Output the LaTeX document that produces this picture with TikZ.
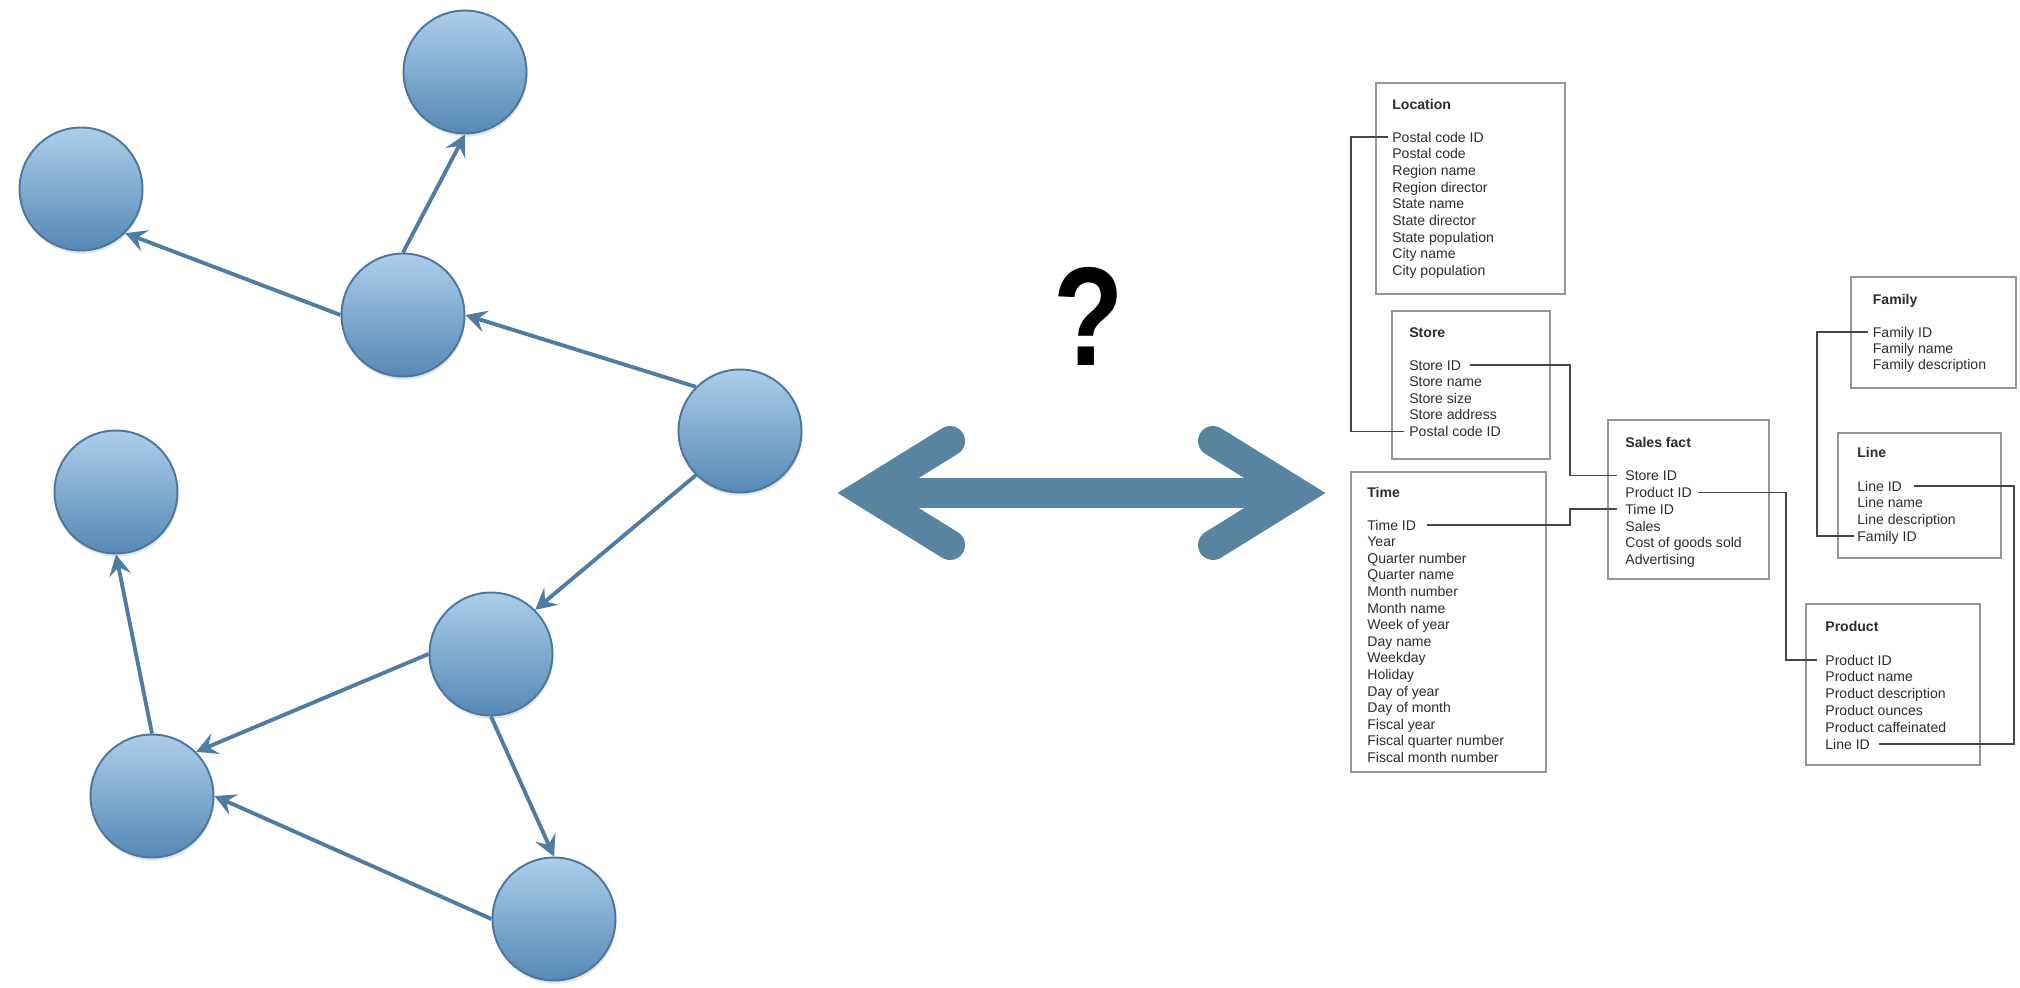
\documentclass[tikz,border=0pt]{standalone}
\usepackage{fontspec}
\setmainfont{Liberation Sans}
\usetikzlibrary{arrows.meta,calc,fit,shadows}

\definecolor{nodeTop}{RGB}{172,206,235}
\definecolor{nodeBot}{RGB}{86,136,180}
\definecolor{nodeLine}{RGB}{74,119,160}
\definecolor{edgeCol}{RGB}{78,124,163}
\definecolor{bigCol}{RGB}{88,132,162}
\definecolor{boxCol}{RGB}{150,150,150}
\definecolor{txtCol}{RGB}{45,45,45}
\definecolor{linkCol}{RGB}{70,70,70}

% one table: prefix, title, text x, title y, first row y, row step, rows
\newcommand\dbtable[7]{%
  \node[ttitle] (#1-t) at (#3,#4) {#2};
  \foreach \rowtext [count=\i] in {#7}
    \node[trow] (#1-\i) at ({#3},{#5+(\i-1)*#6}) {\rowtext};
}

\begin{document}
\begin{tikzpicture}[x=0.02cm,y=-0.02cm,
  gnode/.style={circle, minimum size=2.46cm, inner sep=0pt,
    draw=nodeLine, line width=1.1pt, top color=nodeTop, bottom color=nodeBot,
    drop shadow={opacity=0.22, shadow xshift=0.5pt, shadow yshift=-1.8pt}},
  garrow/.style={draw=edgeCol, line width=2.2pt,
    -{Stealth[length=0.42cm, width=0.44cm, inset=0.16cm]}},
  bigarrow/.style={draw=bigCol, line width=0.6cm},
  tbox/.style={draw=boxCol, line width=0.9pt, inner sep=0pt, rectangle},
  trow/.style={anchor=west, inner sep=0pt, text height=5.8pt, text depth=0pt,
    font=\fontsize{8}{9.6}\selectfont, text=txtCol},
  ttitle/.style={trow, font=\fontsize{8}{9.6}\selectfont\bfseries},
  link/.style={draw=linkCol, line width=0.8pt}
]
\useasboundingbox (0,0) rectangle (2020,987);
\fill[white] (0,0) rectangle (2020,987);

% ---------------- graph ----------------
\node[gnode] (tr) at (465,72) {};
\node[gnode] (tl) at (81,189) {};
\node[gnode] (m)  at (403,315) {};
\node[gnode] (r)  at (740,431) {};
\node[gnode] (lm) at (116,492) {};
\node[gnode] (lo) at (491,654) {};
\node[gnode] (ll) at (152,796) {};
\node[gnode] (b)  at (554,919) {};

\draw[garrow] (m.north) -- (tr.south);
\draw[garrow] (m.west) -- (tl.south east);
\draw[garrow] (r.north west) -- (m.east);
\draw[garrow] (r.south west) -- (lo.north east);
\draw[garrow] (lo.west) -- (ll.north east);
\draw[garrow] (lo.south) -- (b.north);
\draw[garrow] (b.west) -- (ll.east);
\draw[garrow] (ll.north) -- (lm.south);

% ---------------- double arrow and question mark ----------------
\coordinate (dl) at (866,493);
\coordinate (dr) at (1297,493);
\draw[bigarrow] (dl) -- (dr);
\draw[bigarrow, line cap=round, line join=miter]
  ($(dl)+(84,-52)$) -- (dl) -- ($(dl)+(84,52)$);
\draw[bigarrow, line cap=round, line join=miter]
  ($(dr)+(-84,-52)$) -- (dr) -- ($(dr)+(-84,52)$);

\node[font=\fontsize{80}{80}\selectfont\bfseries, xscale=0.82, inner sep=0pt]
  (q) at (1089,316) {?};

% ---------------- star schema tables ----------------
\node[tbox, fit={(1376,83) (1565,294)}] (locbox) {};
\node[tbox, fit={(1392,311) (1550,459)}] (storebox) {};
\node[tbox, fit={(1351,472) (1546,772)}] (timebox) {};
\node[tbox, fit={(1608,420) (1769,579)}] (salesbox) {};
\node[tbox, fit={(1851,277) (2016,388)}] (fambox) {};
\node[tbox, fit={(1838,433) (2001,558)}] (linebox) {};
\node[tbox, fit={(1806,604) (1980,765)}] (prodbox) {};

\dbtable{loc}{Location}{1392}{104.5}{137}{16.7}{Postal code ID,Postal code,Region name,Region director,State name,State director,State population,City name,City population}
\dbtable{store}{Store}{1409}{332}{365}{16.6}{Store ID,Store name,Store size,Store address,Postal code ID}
\dbtable{time}{Time}{1367}{492}{525}{16.6}{Time ID,Year,Quarter number,Quarter name,Month number,Month name,Week of year,Day name,Weekday,Holiday,Day of year,Day of month,Fiscal year,Fiscal quarter number,Fiscal month number}
\dbtable{sales}{Sales fact}{1625}{442}{475.5}{16.8}{Store ID,Product ID,Time ID,Sales,Cost of goods sold,Advertising}
\dbtable{fam}{Family}{1872.5}{299}{332}{16}{Family ID,Family name,Family description}
\dbtable{line}{Line}{1857}{452.5}{486}{16.7}{Line ID,Line name,Line description,Family ID}
\dbtable{prod}{Product}{1825}{626}{660}{16.8}{Product ID,Product name,Product description,Product ounces,Product caffeinated,Line ID}

% key links between tables
\coordinate (busL) at (1351,0);
\coordinate (busS) at (1570,0);
\coordinate (busP) at (1786,0);
\coordinate (busF) at (1817,0);
\coordinate (busR) at (2014,0);

\draw[link] ($(loc-1.west)+(-4,0)$) -- (busL |- loc-1.west)
  -- (busL |- store-5.west) -- ($(store-5.west)+(-5,0)$);
\draw[link] ($(store-1.east)+(9,0)$) -- (busS |- store-1.east)
  -- (busS |- sales-1.west) -- ($(sales-1.west)+(-8,0)$);
\draw[link] ($(time-1.east)+(11,0)$) -- (busS |- time-1.east)
  -- (busS |- sales-3.west) -- ($(sales-3.west)+(-8,0)$);
\draw[link] ($(sales-2.east)+(6,0)$) -- (busP |- sales-2.east)
  -- (busP |- prod-1.west) -- ($(prod-1.west)+(-8,0)$);
\draw[link] ($(fam-1.west)+(-5,0)$) -- (busF |- fam-1.west)
  -- (busF |- line-4.west) -- ($(line-4.west)+(-3,0)$);
\draw[link] ($(line-1.east)+(12,0)$) -- (busR |- line-1.east)
  -- (busR |- prod-6.east) -- ($(prod-6.east)+(9,0)$);
\end{tikzpicture}
\end{document}
